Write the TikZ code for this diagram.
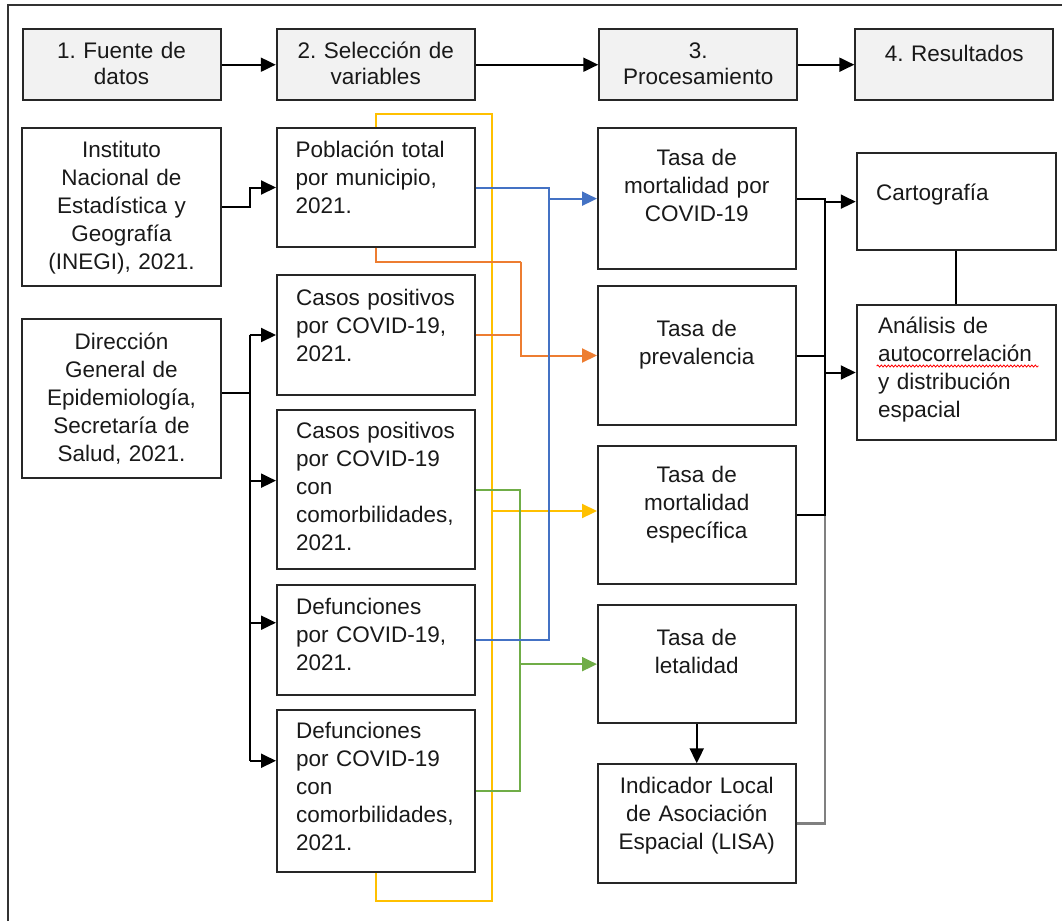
\documentclass[tikz,border=0pt]{standalone}
\usepackage{fontspec}
\setmainfont{Liberation Sans}
\frenchspacing
\usetikzlibrary{arrows.meta,decorations.pathmorphing}
\definecolor{hdrfill}{HTML}{F2F2F2}
\definecolor{lnblue}{HTML}{4472C4}
\definecolor{lnorange}{HTML}{ED7D31}
\definecolor{lnyellow}{HTML}{FFC000}
\definecolor{lngreen}{HTML}{70AD47}
\definecolor{lngray}{HTML}{808080}
\tikzset{
  box/.style={draw=black!85, line width=2pt, minimum width=#1, inner sep=0pt},
  hdr/.style={box=198pt, fill=hdrfill, minimum height=71pt},
  txtc/.style={anchor=base, text width=196pt, align=center, inner sep=0pt, text=black!90, font=\fontsize{22.5}{28}\selectfont\frenchspacing},
  txth/.style={txtc, font=\fontsize{22.5}{26.5}\selectfont\frenchspacing},
  txtl/.style={anchor=base west, text width=176pt, align=left, inner sep=0pt, text=black!90, font=\fontsize{22.5}{28}\selectfont\frenchspacing},
  link/.style={line width=2pt, black},
  graylink/.style={line width=2.6pt, lngray},
  clink/.style={line width=2pt, #1},
}
\begin{document}
\begin{tikzpicture}[x=1pt, y=-1pt, >={Triangle[length=15pt,width=14pt]}]
\useasboundingbox (0,0) rectangle (1062,921);

% Frame
\draw[line width=2pt, black!80] (7.5,921) |- (1062,4.7);

% Headers
\node[hdr] (h1) at (121.5,64.7) {};
\node[hdr] (h2) at (375.75,64.7) {};
\node[hdr] (h3) at (698.25,64.7) {};
\node[hdr] (h4) at (954.3,64.7) {};
\node[txth] (h1t) at (121.5,58.3) {1. Fuente de\\datos};
\node[txth] (h2t) at (375.75,58.3) {2. Selección de\\variables};
\node[txth] (h3t) at (698.25,58.3) {3.\\Procesamiento};
\node[txth] (h4t) at (954.3,61.7) {4. Resultados};
\draw[link,->] (h1) -- (h2);
\draw[link,->] (h2) -- (h3);
\draw[link,->] (h3) -- (h4);

% Sources
\node[box=199pt, minimum height=157.7pt] (inegi) at (121.5,207.15) {};
\node[box=199pt, minimum height=158.4pt] (dge) at (121.5,398.5) {};
\node[txtc] (inegit) at (121.5,157.7) {Instituto\\Nacional de\\Estadística y\\Geografía\\(INEGI), 2021.};
\node[txtc] (dget) at (121.5,349) {Dirección\\General de\\Epidemiología,\\Secretaría de\\Salud, 2021.};

% Variables
\node[box=197.5pt, minimum height=118.4pt] (pob) at (375.75,187.5) {};
\node[box=197.5pt, minimum height=120pt] (casos) at (375.75,335) {};
\node[box=197.5pt, minimum height=159.3pt] (casoscon) at (375.75,489.65) {};
\node[box=197.5pt, minimum height=110pt] (def) at (375.75,640) {};
\node[box=197.5pt, minimum height=161.7pt] (defcon) at (375.75,790.85) {};
\node[txtl] (pobt) at (295.5,157.7) {Población total\\por municipio,\\2021.};
\node[txtl] (casost) at (296,305.5) {Casos positivos\\por COVID-19,\\2021.};
\node[txtl] (casoscont) at (296,438.3) {Casos positivos\\por COVID-19\\con\\comorbilidades,\\2021.};
\node[txtl] (deft) at (296,614.5) {Defunciones\\por COVID-19,\\2021.};
\node[txtl] (defcont) at (296,738.3) {Defunciones\\por COVID-19\\con\\comorbilidades,\\2021.};

% Processing
\node[box=197.5pt, minimum height=140.7pt] (covid) at (696.75,198.65) {};
\node[box=197.5pt, minimum height=139pt] (prev) at (696.75,355.5) {};
\node[box=197.5pt, minimum height=138.6pt] (espec) at (696.75,515) {};
\node[box=197.5pt, minimum height=118.3pt] (letal) at (696.75,664.15) {};
\node[box=197.5pt, minimum height=118.4pt] (lisa) at (696.75,823.5) {};
\node[txtc] (covidt) at (696.75,165) {Tasa de\\mortalidad por\\COVID-19};
\node[txtc] (prevt) at (696.75,336.7) {Tasa de\\prevalencia};
\node[txtc] (espect) at (696.75,482) {Tasa de\\mortalidad\\específica};
\node[txtc] (letalt) at (696.75,645) {Tasa de\\letalidad};
\node[txtc] (lisat) at (696.75,793.3) {Indicador Local\\de Asociación\\Espacial (LISA)};

% Results
\node[box=199pt, minimum height=96.7pt] (carto) at (956.25,201.65) {};
\node[box=199pt, minimum height=135pt] (anal) at (956.25,372.5) {};
\node[txtl] (cartot) at (876,200) {Cartografía};
\node[txtl] (analt) at (877.8,333.3) {Análisis de\\autocorrelación\\y distribución\\espacial};
\draw[red, line width=0.8pt, decorate, decoration={snake, amplitude=1pt, segment length=3.5pt}] (876.7,366) -- (1038.5,366);

% Bus lines
\coordinate (busL) at (249.5,0);
\coordinate (busG) at (520,0);
\coordinate (busB) at (549.4,0);
\coordinate (busT) at (825,0);
\coordinate (yTR) at (491.7,114);
\coordinate (yBR) at (491.7,901);
\coordinate (oEl) at (520.7,261.7);
\coordinate (dgeOut) at ([yshift=5.8pt]dge.east);
\coordinate (ccIn) at ([yshift=9pt]casoscon.west);
\coordinate (dfIn) at ([yshift=17.3pt]def.west);
\coordinate (dcIn) at ([yshift=30.1pt]defcon.west);
\coordinate (esIn) at ([yshift=4pt]espec.west);

% Sources -> variables
\draw[link,->] (inegi.east) -- (inegi.east -| busL) |- (pob.west);
\draw[link] (dgeOut) -- (dgeOut -| busL);
\draw[link] (busL |- casos.west) -- (busL |- dcIn);
\draw[link,->] (busL |- casos.west) -- (casos.west);
\draw[link,->] (ccIn -| busL) -- (ccIn);
\draw[link,->] (dfIn -| busL) -- (dfIn);
\draw[link,->] (dcIn -| busL) -- (dcIn);

% Variables -> processing
\draw[clink=lnyellow, line width=2.4pt] (pob.north) |- (yTR) -- (yBR) -| (defcon.south);
\draw[clink=lnyellow, line width=2.2pt, ->] (esIn -| yTR) -- (esIn);
\draw[clink=lnorange] (pob.south) |- (oEl);
\draw[clink=lnorange] (casos.east) -- (casos.east -| oEl);
\draw[clink=lnorange, ->] (oEl) |- (prev.west);
\draw[clink=lngreen] (casoscon.east) -| (busG |- defcon.east) -- (defcon.east);
\draw[clink=lngreen, ->] (busG |- letal.west) -- (letal.west);
\draw[clink=lnblue] (pob.east) -| (busB |- def.east) -- (def.east);
\draw[clink=lnblue, ->] (busB |- covid.west) -- (covid.west);
\draw[link,->] (letal) -- (lisa);

% Processing -> results
\draw[graylink] (lisa.east) -| (busT |- espec.east);
\draw[link] (covid.east) -| (busT |- espec.east) -- (espec.east);
\draw[link] (prev.east) -- (prev.east -| busT);
\draw[link,->] (carto.west -| busT) -- (carto.west);
\draw[link,->] (anal.west -| busT) -- (anal.west);
\draw[link] (carto) -- (anal);
\end{tikzpicture}
\end{document}
